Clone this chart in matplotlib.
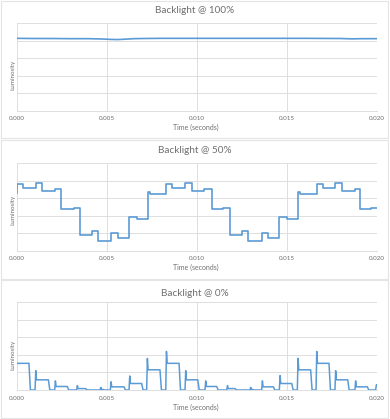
import numpy as np
import matplotlib.pyplot as plt
from matplotlib.patches import Rectangle

# backlight @ 100% : nearly flat trace
t_full = [0.0, 0.0010, 0.0020, 0.0030, 0.0040, 0.0048, 0.0052, 0.0056, 0.0060, 0.0065,
          0.0070, 0.0080, 0.0100, 0.0120, 0.0140, 0.0160, 0.0180, 0.0186, 0.0192, 0.0200]
v_full = [4.14, 4.13, 4.13, 4.12, 4.12, 4.10, 4.08, 4.07, 4.09, 4.12,
          4.13, 4.14, 4.14, 4.14, 4.14, 4.14, 4.13, 4.11, 4.12, 4.12]

# backlight @ 50% : step changes (time the step starts, level held after it)
t_half = [0.0, 0.00003, 0.00035, 0.00106, 0.00142, 0.00211, 0.00244, 0.00318, 0.0035,
          0.00417, 0.00452, 0.00522, 0.00561, 0.00624, 0.00668, 0.00728, 0.0074,
          0.0083, 0.00864, 0.00935, 0.00972, 0.0104, 0.01083, 0.01146, 0.01185,
          0.0125, 0.01287, 0.01361, 0.01394, 0.01457, 0.015, 0.01561, 0.01573,
          0.01667, 0.01703, 0.01768, 0.01809, 0.0188, 0.01909, 0.0197, 0.02]
v_half = [3.30, 3.83, 3.60, 3.85, 3.41, 3.53, 2.38, 2.46, 0.90,
          1.14, 0.55, 1.01, 0.74, 1.91, 1.79, 3.37, 3.24,
          3.83, 3.60, 3.85, 3.41, 3.53, 2.38, 2.46, 0.90,
          1.14, 0.55, 1.01, 0.74, 1.91, 1.79, 3.37, 3.24,
          3.83, 3.60, 3.85, 3.41, 3.53, 2.38, 2.45, 2.45]

# backlight @ 0% : pulses (on, off, overshoot peak, settled level)
pulse_on = [0.0, 0.00102, 0.00211, 0.00333, 0.00463, 0.0052, 0.00624, 0.00722, 0.00828, 0.00935,
            0.01046, 0.01167, 0.01296, 0.01361, 0.01459, 0.01559, 0.01663, 0.01768, 0.01879, 0.01994]
pulse_off = [0.00068, 0.00176, 0.00281, 0.00383, 0.0048, 0.00596, 0.00694, 0.00796, 0.00902, 0.01006,
             0.01111, 0.01213, 0.0131, 0.01426, 0.01528, 0.01633, 0.01735, 0.01839, 0.01948, 0.02]
pulse_peak = [1.52, 1.10, 0.52, 0.25, 0.15, 0.47, 0.80, 1.80, 2.20, 1.10,
              0.52, 0.25, 0.15, 0.52, 0.82, 1.80, 2.20, 1.10, 0.52, 0.28]
pulse_level = [1.52, 0.58, 0.20, 0.08, 0.03, 0.18, 0.37, 1.15, 1.52, 0.58,
               0.20, 0.08, 0.03, 0.18, 0.37, 1.15, 1.52, 0.58, 0.18, 0.28]

titles = ['Backlight @ 100%', 'Backlight @ 50%', 'Backlight @ 0%']
x_ticks = [0.0, 0.005, 0.010, 0.015, 0.020]

LINE = '#5b9bd5'
GRID = '#dedede'
TEXT = '#6f6f6f'
W, H = 390, 419

plt.rcParams['font.family'] = ['Lato', 'DejaVu Sans']
fig = plt.figure(figsize=(W / 100, H / 100), dpi=100)

# pixel layout of the three chart boxes: (frame top, frame bottom, axes top, axes bottom, title y, xlabel y, ylabel y)
panels = [
    (1, 138, 23.3, 110.7, 10.5, 127.7, 75),
    (140, 278.5, 163.3, 250.7, 150.7, 267.7, 210),
    (280, 418, 302.3, 390.0, 293.0, 407.3, 355),
]
ax_left, ax_right = 16.7, 376.7

# build the 0% trace from the pulse table
rise, fall = 0.00004, 0.00008
t_zero, v_zero = [], []
for on, off, pk, lv in zip(pulse_on, pulse_off, pulse_peak, pulse_level):
    if on == 0.0:
        t_zero += [on, off, off + fall]
        v_zero += [lv, lv, 0.0]
        continue
    t_zero += [on, on + rise, on + 2 * rise, off]
    v_zero += [0.0, pk, lv, lv]
    if off < 0.02:
        t_zero.append(off + fall)
        v_zero.append(0.0)

for i, (ftop, fbot, atop, abot, ty, xly, yly) in enumerate(panels):
    fig.patches.append(Rectangle((1 / W, 1 - fbot / H), (W - 3) / W, (fbot - ftop) / H,
                                 transform=fig.transFigure, fill=False, edgecolor='#e4e4e4', lw=0.8))
    ax = fig.add_axes([ax_left / W, 1 - abot / H, (ax_right - ax_left) / W, (abot - atop) / H])
    if i == 0:
        ax.plot(t_full, v_full, color=LINE, lw=1.2)
    elif i == 1:
        ax.step(t_half, v_half, where='post', color=LINE, lw=1.2)
    else:
        ax.plot(t_zero, v_zero, color=LINE, lw=1.1)
    ax.set_xlim(0, 0.02)
    ax.set_ylim(0, 5)
    ax.set_xticks(x_ticks)
    ax.set_xticklabels([f'{x:.3f}' for x in x_ticks])
    ax.set_yticks(range(6))
    ax.set_yticklabels([])
    ax.grid(True, color=GRID, lw=0.7)
    ax.set_axisbelow(True)
    ax.tick_params(length=0, labelsize=4.5, labelcolor=TEXT, pad=4)
    for s in ['top', 'right', 'left']:
        ax.spines[s].set_visible(False)
    ax.spines['bottom'].set_color(GRID)
    ax.spines['bottom'].set_linewidth(0.7)
    fig.text(0.5, 1 - ty / H, titles[i], ha='center', va='center', fontsize=7.2, color=TEXT)
    fig.text(196 / W, 1 - xly / H, 'Time (seconds)', ha='center', va='center', fontsize=5, color=TEXT)
    fig.text(12.5 / W, 1 - yly / H, 'Luminosity', ha='center', va='center', rotation=90,
             fontsize=4.5, color=TEXT)

plt.savefig('out.png', dpi=100)
plt.close()
